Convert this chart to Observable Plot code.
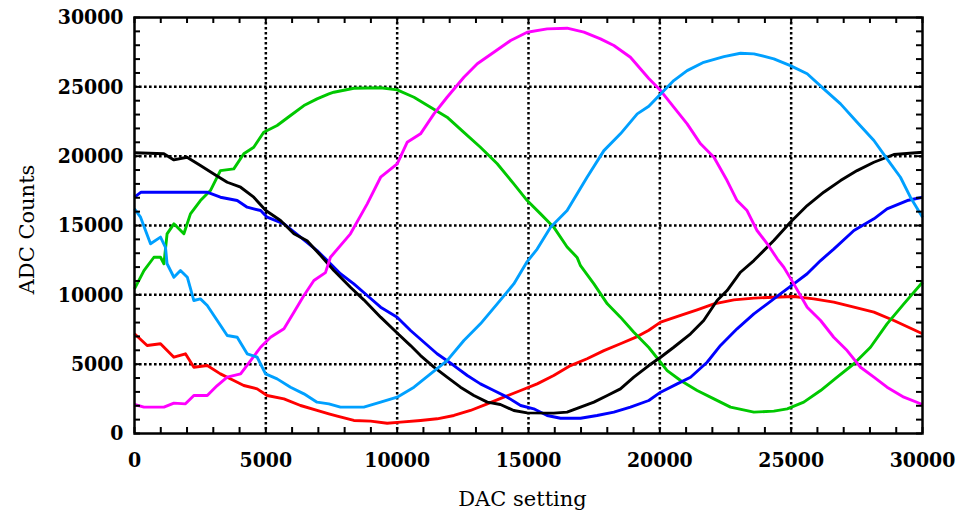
<!DOCTYPE html>
<html>
<head>
<meta charset="utf-8">
<script src="https://cdn.jsdelivr.net/npm/d3@7"></script>
<script src="https://cdn.jsdelivr.net/npm/@observablehq/plot@0.6"></script>
<style>
  html, body { margin: 0; padding: 0; background: #fff; }
  #chart { width: 973px; height: 513px; }
  .ticklabels text { font-family: 'DejaVu Serif Condensed', 'DejaVu Serif', serif; font-stretch: condensed; font-weight: bold; }
</style>
</head>
<body>
<div id="chart"></div>
<script>
// Tick values
const xLabels = [0, 5000, 10000, 15000, 20000, 25000, 30000];
const yLabels = [0, 5000, 10000, 15000, 20000, 25000, 30000];
const gridMajor = [5000, 10000, 15000, 20000, 25000];
const minorTicks = d3.range(0, 30001, 1000);

// Series (DAC setting, ADC counts)
const redX = [0, 480, 990, 1500, 1940, 2260, 2770, 3270, 3780, 4160, 4670, 5050, 5690, 6320, 6950, 7400, 7720, 8350, 8990, 9620, 10130, 10890, 11520, 12160, 12790, 13430, 14060, 14700, 15330, 15960, 16600, 17230, 17870, 18500, 19140, 19580, 20030, 20790, 21420, 22060, 22820, 23580, 24340, 25100, 25860, 26620, 27390, 28150, 28910, 30000];
const redY = [7190, 6350, 6470, 5500, 5750, 4780, 4900, 4300, 3820, 3460, 3220, 2740, 2500, 2020, 1660, 1420, 1250, 940, 890, 740, 820, 940, 1060, 1300, 1660, 2140, 2620, 3100, 3580, 4180, 4900, 5390, 5980, 6470, 6990, 7450, 8030, 8510, 8920, 9350, 9640, 9760, 9830, 9880, 9710, 9470, 9110, 8750, 8150, 7190];

const greenX = [0, 360, 740, 990, 1120, 1240, 1500, 1880, 2130, 2510, 2890, 3270, 3780, 4160, 4540, 4920, 5430, 5940, 6450, 6950, 7400, 7590, 8350, 9370, 10000, 10640, 11270, 11900, 12540, 13170, 13810, 14440, 14950, 15460, 15960, 16470, 16850, 16980, 17490, 18000, 18500, 19010, 19580, 20280, 20790, 21420, 22060, 22690, 23580, 24340, 24850, 25480, 26120, 26750, 27390, 28020, 28650, 29290, 30000];
const greenY = [10430, 11750, 12710, 12710, 12240, 14400, 15120, 14400, 15840, 16800, 17520, 18960, 19080, 20170, 20640, 21720, 22210, 22930, 23650, 24130, 24490, 24610, 24900, 24930, 24780, 24250, 23530, 22810, 21720, 20640, 19450, 18000, 16800, 15840, 14880, 13450, 12700, 12100, 10790, 9350, 8390, 7300, 6200, 4540, 3820, 3100, 2500, 1900, 1540, 1610, 1780, 2260, 3100, 4060, 5030, 6220, 7910, 9350, 10910];

const blueX = [0, 250, 1000, 2000, 2760, 3270, 3910, 4290, 4800, 5050, 5690, 6320, 6950, 7340, 7840, 8350, 8860, 9370, 10000, 10510, 11020, 11520, 12160, 12670, 13170, 13680, 14190, 14700, 15200, 15710, 16220, 16980, 17610, 18250, 18880, 19580, 20030, 20660, 21170, 21800, 22310, 22940, 23580, 24090, 24590, 25100, 25610, 26120, 26620, 27390, 28150, 28650, 29420, 30000];
const blueY = [17040, 17400, 17400, 17400, 17400, 17040, 16800, 16320, 16080, 15600, 15120, 14160, 13190, 12470, 11520, 10790, 9950, 9110, 8390, 7430, 6580, 5750, 4900, 4180, 3580, 3100, 2620, 2020, 1780, 1300, 1100, 1100, 1300, 1540, 1900, 2380, 2980, 3580, 4060, 5140, 6350, 7550, 8630, 9350, 10070, 10790, 11520, 12470, 13300, 14640, 15480, 16200, 16800, 17040];

const blackX = [0, 1120, 1500, 2000, 2510, 3020, 3530, 4040, 4540, 5000, 5560, 6070, 6570, 7080, 7590, 8220, 8730, 9370, 10060, 10510, 10890, 11400, 11900, 12410, 12920, 13430, 13930, 14440, 14950, 15960, 16470, 16980, 17490, 18000, 18500, 19010, 19580, 20030, 20530, 21170, 21670, 22180, 22560, 23070, 23580, 24340, 24970, 25610, 26240, 26880, 27510, 28150, 28910, 30000];
const blackY = [20250, 20170, 19730, 19920, 19320, 18720, 18120, 17760, 17040, 16080, 15360, 14400, 13900, 12850, 11750, 10550, 9640, 8390, 7140, 6340, 5620, 4780, 4060, 3340, 2740, 2260, 2090, 1660, 1490, 1470, 1540, 1900, 2260, 2740, 3220, 4060, 4900, 5500, 6220, 7190, 8150, 9590, 10310, 11630, 12470, 13920, 15240, 16440, 17400, 18240, 18960, 19560, 20120, 20280];

const magentaX = [0, 360, 1120, 1500, 1940, 2260, 2770, 3150, 3530, 4040, 4420, 4800, 5180, 5690, 6070, 6450, 6830, 7270, 7460, 8220, 8860, 9370, 10000, 10380, 10890, 11400, 11900, 12540, 13050, 13680, 14320, 14950, 15710, 16470, 17110, 17740, 18250, 18880, 19580, 20030, 20530, 21040, 21550, 22060, 22560, 22940, 23320, 23700, 24090, 24470, 24720, 25100, 25610, 26120, 26620, 27130, 27640, 28150, 28650, 29290, 30000];
const magentaY = [2090, 1900, 1900, 2190, 2140, 2740, 2740, 3460, 4060, 4300, 5260, 6220, 6940, 7550, 8750, 9950, 11030, 11600, 12710, 14400, 16560, 18480, 19450, 21000, 21610, 23050, 24250, 25690, 26660, 27490, 28340, 28940, 29180, 29230, 28940, 28460, 27980, 27130, 25600, 24730, 23530, 22330, 20890, 19920, 18240, 16800, 16080, 14640, 13680, 12600, 11990, 10790, 9110, 8150, 6940, 5980, 4780, 4060, 3340, 2620, 2090];

const skyX = [0, 230, 610, 990, 1180, 1240, 1500, 1750, 2010, 2260, 2510, 2770, 3150, 3530, 3910, 4290, 4670, 4990, 5430, 5940, 6450, 6950, 7400, 7840, 8730, 9370, 10000, 10640, 11270, 11900, 12540, 13170, 13810, 14440, 14950, 15330, 15840, 16470, 17230, 17870, 18500, 19140, 19580, 20030, 20530, 21040, 21670, 22440, 23070, 23580, 24340, 24970, 25610, 26240, 26880, 27510, 28150, 28650, 29160, 29540, 30000];
const skyY = [16200, 15600, 13680, 14160, 13430, 12240, 11270, 11750, 11270, 9590, 9710, 9230, 8150, 7070, 6940, 5750, 5500, 4300, 3940, 3340, 2860, 2260, 2140, 1900, 1900, 2260, 2620, 3340, 4300, 5260, 6710, 7910, 9350, 10790, 12400, 13300, 14880, 16080, 18480, 20400, 21610, 23050, 23600, 24490, 25450, 26170, 26770, 27180, 27420, 27380, 27020, 26530, 25940, 24850, 23770, 22450, 21130, 19810, 18480, 17040, 15600];

const seriesNames = ["red", "green", "blue", "black", "magenta", "sky"];
const seriesColors = ["#ff0000", "#00c800", "#0000ff", "#000000", "#ff00ff", "#00a0ff"];
const seriesX = [redX, greenX, blueX, blackX, magentaX, skyX];
const seriesY = [redY, greenY, blueY, blackY, magentaY, skyY];

const rows = seriesNames.flatMap((name, i) =>
  seriesX[i].map((x, j) => ({series: name, dac: x, adc: seriesY[i][j]})));

const gridStyle = {stroke: "#000", strokeOpacity: 1, strokeWidth: 2.5, strokeDasharray: "2.6,2.4"};
const frameH = 513 - 17 - 80;
const frameW = 973 - 134 - 51;
const tickLen = 6;

const chart = Plot.plot({
  width: 973,
  height: 513,
  marginLeft: 134,
  marginRight: 51,
  marginTop: 17,
  marginBottom: 80,
  style: {fontFamily: "'DejaVu Serif', serif", fontSize: "21px", color: "#000", background: "#fff", overflow: "visible"},
  x: {domain: [0, 30000]},
  y: {domain: [0, 30000]},
  color: {domain: seriesNames, range: seriesColors},
  marks: [
    Plot.gridX(gridMajor, gridStyle),
    Plot.gridY(gridMajor, gridStyle),
    Plot.line(rows, {x: "dac", y: "adc", z: "series", stroke: "series", strokeWidth: 2.9, strokeLinejoin: "round", strokeLinecap: "butt"}),
    // inward minor ticks on all four sides
    Plot.ruleX(minorTicks, {x: d => d, stroke: "#000", strokeWidth: 2, insetTop: frameH - tickLen}),
    Plot.ruleX(minorTicks, {x: d => d, stroke: "#000", strokeWidth: 2, insetBottom: frameH - tickLen}),
    Plot.ruleY(minorTicks, {y: d => d, stroke: "#000", strokeWidth: 2, insetRight: frameW - tickLen}),
    Plot.ruleY(minorTicks, {y: d => d, stroke: "#000", strokeWidth: 2, insetLeft: frameW - tickLen}),
    Plot.axisX(xLabels, {anchor: "bottom", tickSize: 0, tickPadding: 19, tickFormat: d => String(d), label: null, className: "ticklabels"}),
    Plot.axisY(yLabels, {anchor: "left", tickSize: 0, tickPadding: 11, tickFormat: d => String(d), label: null, className: "ticklabels"}),
    Plot.frame({stroke: "#000", strokeWidth: 2.5}),
    Plot.text(["DAC setting"], {frameAnchor: "bottom", textAnchor: "middle", lineAnchor: "middle", dx: -6, dy: 66, fill: "#000"}),
    Plot.text(["ADC Counts"], {frameAnchor: "left", textAnchor: "middle", lineAnchor: "middle", rotate: -90, dx: -107, dy: 4, fill: "#000"})
  ]
});
document.getElementById("chart").appendChild(chart);
</script>
</body>
</html>
